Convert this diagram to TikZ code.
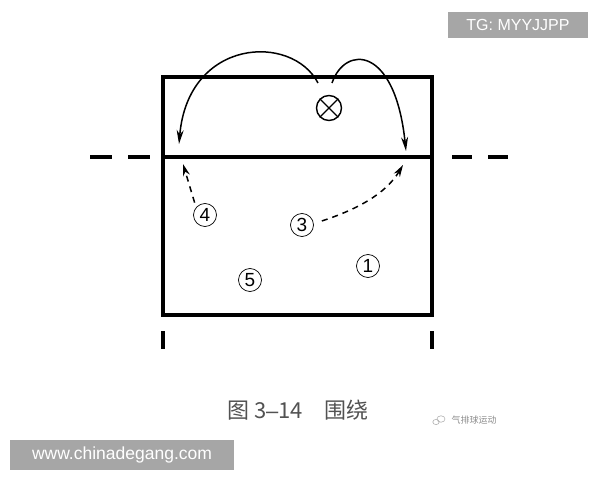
\documentclass[tikz,border=0pt]{standalone}
\usepackage{fontspec}
\setmainfont{Liberation Sans}
\newfontfamily\cjk{Noto Sans CJK SC}
\usetikzlibrary{arrows.meta}
\tikzset{
	player/.style={draw, circle, line width=0.7pt, minimum size=23pt, inner sep=0pt, font=\fontsize{19}{19}\selectfont},
	serve/.style={line width=1.5pt, -{Stealth[length=14pt,width=7pt]}},
	run/.style={line width=1.5pt, dash pattern=on 6pt off 5pt, -{Stealth[length=12pt,width=7pt]}},
	wmbox/.style={fill=black!35, draw=none}
}

\begin{document}
\begin{tikzpicture}[x=1pt,y=1pt]
		%%%%% START %%%%%
		\useasboundingbox (0, 0) rectangle (600, 480);
		
		% court and net
		\draw[line width=3.2pt] (163, 165) rectangle (432, 403);
		\draw[line width=3.2pt] (163, 323) -- (432, 323);
		
		\draw[line width=3.2pt] (90, 323) -- (112, 323);
		\draw[line width=3.2pt] (128, 323) -- (150, 323);
		\draw[line width=3.2pt] (452, 323) -- (472, 323);
		\draw[line width=3.2pt] (488, 323) -- (508, 323);
		
		\draw[line width=3.2pt] (163, 149) -- (163, 131);
		\draw[line width=3.2pt] (432, 149) -- (432, 131);
		
		% server
		\node[draw, circle, line width=1.4pt, minimum size=25pt, inner sep=0pt] (srv) at (329, 372) {};
		\draw[line width=1.4pt] (srv.45) -- (srv.225);
		\draw[line width=1.4pt] (srv.135) -- (srv.315);
		
		\coordinate (out1) at (318, 397);
		\coordinate (out2) at (332, 397);
		\coordinate (land1) at (179, 336);
		\coordinate (land2) at (406, 329);
		
		\draw[serve] (out1) .. controls (292, 447) and (188, 442) .. (land1);
		\draw[serve] (out2) .. controls (345, 435) and (395, 435) .. (land2);
		
		% players
		\node[player] (p4) at (205, 265) {4};
		\node[player] (p3) at (302, 255) {3};
		\node[player] (p5) at (250, 200) {5};
		\node[player] (p1) at (368, 214) {1};
		
		\coordinate (to4) at (183, 316);
		\coordinate (to3) at (403, 315);
		
		\draw[run] (p4.north west) ++(-2, 4) -- (to4);
		\draw[run] (p3.east) ++(8, 4) .. controls (355, 270) and (385, 285) .. (to3);
		
		% caption
		\node[text=black!68, font=\cjk\fontsize{22}{22}\selectfont] (cap) at (298, 70) {图 3{\fontspec{Liberation Sans}–}14\quad 围绕};
		\node[text=black!45, font=\cjk\fontsize{9}{9}\selectfont, anchor=west] (acc) at (448, 60) {气排球运动};
		\draw[black!30, line width=0.6pt] (441, 61) ellipse (4 and 3.2);
		\draw[black!30, line width=0.6pt] (436, 58) ellipse (3.2 and 2.6);
		
		% watermarks
		\draw[wmbox] (448, 442) rectangle (588, 468);
		\node[text=white, font=\fontsize{16}{16}\selectfont] (tg) at (518, 455) {TG: MYYJJPP};
		\draw[wmbox] (10, 10) rectangle (234, 40);
		\node[text=white, font=\fontsize{17.5}{17.5}\selectfont] (web) at (122, 25) {www.chinadegang.com};
		
		%%%%% END %%%%%
	\end{tikzpicture}
\end{document}
